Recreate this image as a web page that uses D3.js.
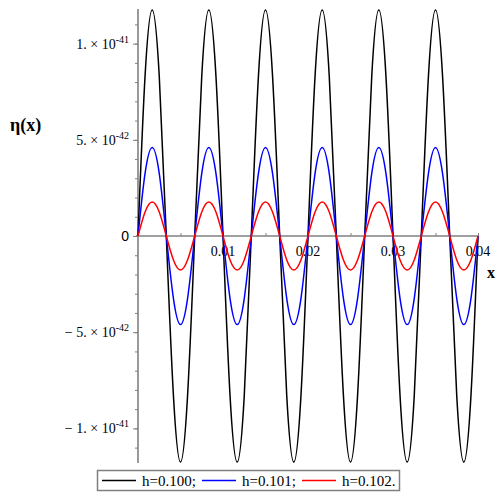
<!DOCTYPE html>
<html><head><meta charset="utf-8">
<script src="https://cdn.jsdelivr.net/npm/d3@7"></script>
<style>body{margin:0;background:#fff}svg{display:block}</style>
</head><body>
<script>
const xValues = [0, 0.00083, 0.00167, 0.0025, 0.00333, 0.00417, 0.005, 0.00583, 0.00667, 0.0075, 0.00833, 0.00917, 0.01, 0.01083, 0.01167, 0.0125, 0.01333, 0.01417, 0.015, 0.01583, 0.01667, 0.0175, 0.01833, 0.01917, 0.02, 0.02083, 0.02167, 0.0225, 0.02333, 0.02417, 0.025, 0.02583, 0.02667, 0.0275, 0.02833, 0.02917, 0.03, 0.03083, 0.03167, 0.0325, 0.03333, 0.03417, 0.035, 0.03583, 0.03667, 0.0375, 0.03833, 0.03917, 0.04];
// values in units of 1e-42
const etaH100 = [0, 8.31, 11.75, 8.31, 0, -8.31, -11.75, -8.31, 0, 8.31, 11.75, 8.31, 0, -8.31, -11.75, -8.31, 0, 8.31, 11.75, 8.31, 0, -8.31, -11.75, -8.31, 0, 8.31, 11.75, 8.31, 0, -8.31, -11.75, -8.31, 0, 8.31, 11.75, 8.31, 0, -8.31, -11.75, -8.31, 0, 8.31, 11.75, 8.31, 0, -8.31, -11.75, -8.31, 0];
const etaH101 = [0, 3.25, 4.6, 3.25, 0, -3.25, -4.6, -3.25, 0, 3.25, 4.6, 3.25, 0, -3.25, -4.6, -3.25, 0, 3.25, 4.6, 3.25, 0, -3.25, -4.6, -3.25, 0, 3.25, 4.6, 3.25, 0, -3.25, -4.6, -3.25, 0, 3.25, 4.6, 3.25, 0, -3.25, -4.6, -3.25, 0, 3.25, 4.6, 3.25, 0, -3.25, -4.6, -3.25, 0];
const etaH102 = [0, 1.25, 1.77, 1.25, 0, -1.25, -1.77, -1.25, 0, 1.25, 1.77, 1.25, 0, -1.25, -1.77, -1.25, 0, 1.25, 1.77, 1.25, 0, -1.25, -1.77, -1.25, 0, 1.25, 1.77, 1.25, 0, -1.25, -1.77, -1.25, 0, 1.25, 1.77, 1.25, 0, -1.25, -1.77, -1.25, 0, 1.25, 1.77, 1.25, 0, -1.25, -1.77, -1.25, 0];
const seriesLabels = ["h=0.100;", "h=0.101;", "h=0.102."];
const seriesColors = ["#000000", "#0000ff", "#ff0000"];
const xTickValues = [0.01, 0.02, 0.03, 0.04];
const xTickLabels = ["0.01", "0.02", "0.03", "0.04"];
const yTickValues = [1e-41, 5e-42, 0, -5e-42, -1e-41];
const yTickMantissa = ["1. \u00d7 10", "5. \u00d7 10", "0", "\u2212 5. \u00d7 10", "\u2212 1. \u00d7 10"];
const yTickExp = ["-41", "-42", "", "-42", "-41"];

const W = 500, H = 500;
const svg = d3.select("body").append("svg").attr("width", W).attr("height", H);
const x = d3.scaleLinear().domain([0, 0.04]).range([138, 478]);
const y = d3.scaleLinear().domain([-1.18e-41, 1.18e-41]).range([463, 9]);
const axisColor = "#808080";
const serif = "Liberation Serif";

// y axis
const yMinor = d3.range(-11, 12).map(k => k * 1e-42);
const yAx = svg.append("g").attr("transform", `translate(${x(0)},0)`)
  .call(d3.axisLeft(y).tickValues(yMinor).tickSize(3).tickFormat(""));
yAx.select(".domain").remove();
yAx.selectAll("line").attr("stroke", axisColor).attr("stroke-width", 1);
const yMaj = svg.append("g").attr("transform", `translate(${x(0)},0)`)
  .call(d3.axisLeft(y).tickValues(yTickValues).tickSize(5).tickFormat(""));
yMaj.select(".domain").remove();
yMaj.selectAll("line").attr("stroke", axisColor).attr("stroke-width", 1);
svg.append("line").attr("x1", x(0)).attr("x2", x(0)).attr("y1", y.range()[1]).attr("y2", y.range()[0])
  .attr("stroke", axisColor).attr("stroke-width", 1.6);

// x axis
const xMinor = d3.range(1, 9).map(k => k * 0.005);
const xAx = svg.append("g").attr("transform", `translate(0,${y(0)})`)
  .call(d3.axisTop(x).tickValues(xMinor).tickSize(3).tickFormat(""));
xAx.select(".domain").remove();
xAx.selectAll("line").attr("stroke", axisColor).attr("stroke-width", 1);
svg.append("line").attr("x1", x(0) - 2).attr("x2", x.range()[1]).attr("y1", y(0)).attr("y2", y(0))
  .attr("stroke", axisColor).attr("stroke-width", 1.6);

// x tick labels
svg.append("g").selectAll("text").data(xTickValues).join("text")
  .attr("x", d => x(d)).attr("y", y(0) + 20)
  .attr("text-anchor", "middle").style("font-family", serif).style("font-size", "14px")
  .text((d, i) => xTickLabels[i]);

// y tick labels
yTickValues.forEach((v, i) => {
  const t = svg.append("text").attr("x", 129).attr("y", y(v) + 5)
    .attr("text-anchor", "end").style("font-family", v === 0 ? "Liberation Sans" : serif)
    .style("font-size", "14px");
  t.append("tspan").text(yTickMantissa[i]);
  if (yTickExp[i]) t.append("tspan").attr("dy", -6).style("font-size", "10px").text(yTickExp[i]);
});

// axis titles
svg.append("text").attr("x", 10).attr("y", 131).style("font-family", serif).style("font-weight", "bold")
  .style("font-size", "18px").text("\u03b7(x)");
svg.append("text").attr("x", 487).attr("y", 278).style("font-family", serif).style("font-weight", "bold")
  .style("font-size", "16px").text("x");

// curves
const series = [etaH100, etaH101, etaH102];
const line = d3.line().x((d, i) => x(xValues[i])).y(d => y(d * 1e-42)).curve(d3.curveNatural);
svg.append("g").selectAll("path").data(series).join("path")
  .attr("d", d => line(d)).attr("fill", "none")
  .attr("stroke", (d, i) => seriesColors[i]).attr("stroke-width", 1.5);

// legend
const lg = svg.append("g");
lg.append("rect").attr("x", 97.5).attr("y", 470.5).attr("width", 302).attr("height", 20)
  .attr("fill", "#fff").attr("stroke", axisColor).attr("stroke-width", 1.5);
seriesLabels.forEach((lab, i) => {
  const x0 = 102 + i * 100;
  lg.append("line").attr("x1", x0).attr("x2", x0 + 34).attr("y1", 480.5).attr("y2", 480.5)
    .attr("stroke", seriesColors[i]).attr("stroke-width", 1.5);
  lg.append("text").attr("x", x0 + 40).attr("y", 486).style("font-family", serif).style("font-size", "15px")
    .text(lab);
});
</script>
</body></html>
